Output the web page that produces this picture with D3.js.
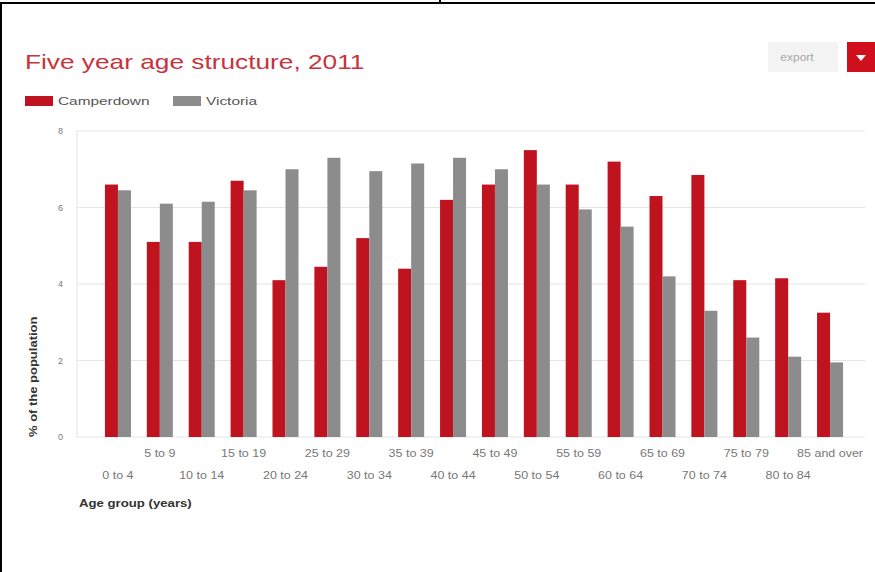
<!DOCTYPE html>
<html><head><meta charset="utf-8">
<script src="https://cdn.jsdelivr.net/npm/d3@7"></script>
<style>
body{margin:0;background:#fff;}
svg{display:block;font-family:"Liberation Sans",Arial,sans-serif;}
</style>
</head><body>
<svg id="chart" width="875" height="572"></svg>
<script>
const categories = ["0 to 4","5 to 9","10 to 14","15 to 19","20 to 24","25 to 29","30 to 34","35 to 39","40 to 44","45 to 49","50 to 54","55 to 59","60 to 64","65 to 69","70 to 74","75 to 79","80 to 84","85 and over"];
const seriesNames = ["Camperdown","Victoria"];
const camperdown = [6.6,5.1,5.1,6.7,4.1,4.45,5.2,4.4,6.2,6.6,7.5,6.6,7.2,6.3,6.85,4.1,4.15,3.25];
const victoria = [6.45,6.1,6.15,6.45,7.0,7.3,6.95,7.15,7.3,7.0,6.6,5.95,5.5,4.2,3.3,2.6,2.1,1.95];
const yTicks = [0,2,4,6,8];
const title = "Five year age structure, 2011";
const xTitle = "Age group (years)";
const yTitle = "% of the population";

const colors = {Camperdown:"#bf1420", Victoria:"#8c8c8c"};
const svg = d3.select("#chart");

// frame borders
svg.append("rect").attr("x",0).attr("y",2).attr("width",875).attr("height",2).attr("fill","#000");
svg.append("rect").attr("x",0).attr("y",2).attr("width",2).attr("height",570).attr("fill","#000");
svg.append("rect").attr("x",439).attr("y",0).attr("width",2).attr("height",3).attr("fill","#000");

// title
svg.append("g").attr("transform","translate(25,69) scale(1.25,1)")
  .append("text").text(title).attr("font-size",21).attr("fill","#c8333d");

// export button
svg.append("rect").attr("x",768).attr("y",42).attr("width",70).attr("height",30).attr("fill","#f3f3f3");
svg.append("g").attr("transform","translate(797,61) scale(1.2,1)")
  .append("text").text("export").attr("font-size",10).attr("fill","#aaa").attr("text-anchor","middle");
svg.append("rect").attr("x",847).attr("y",42).attr("width",28).attr("height",30).attr("fill","#d0101c");
svg.append("path").attr("d","M856,55 L866,55 L861,61 Z").attr("fill","#fff");

// legend
const legX = [25,173];
seriesNames.forEach((s,i)=>{
  svg.append("rect").attr("x",legX[i]).attr("y",96).attr("width",28).attr("height",10).attr("fill",colors[s]);
  svg.append("g").attr("transform",`translate(${legX[i]+33},105) scale(1.4,1)`)
    .append("text").text(s).attr("font-size",11).attr("fill","#555");
});

// scales
const x0 = d3.scaleBand().domain(categories).range([97,851]).paddingInner(0).paddingOuter(0);
const x1 = d3.scaleBand().domain(seriesNames).range([0,x0.bandwidth()]).paddingInner(0).paddingOuter(0.61);
const y = d3.scaleLinear().domain([0,8]).range([437,131]);

// gridlines
svg.append("g").selectAll("line").data(yTicks).join("line")
  .attr("x1",77).attr("x2",865).attr("y1",d=>y(d)).attr("y2",d=>y(d))
  .attr("stroke","#e4e4e4").attr("stroke-width",1);
svg.append("line").attr("x1",77).attr("x2",77).attr("y1",y(8)).attr("y2",y(0)).attr("stroke","#e4e4e4");

// y axis labels
const yAxis = d3.axisLeft(y).tickValues(yTicks).tickSize(0).tickPadding(0).tickFormat(d3.format("d"));
const yg = svg.append("g").attr("transform","translate(63,0)").call(yAxis);
yg.select(".domain").remove();
yg.selectAll("text").attr("font-size",9).attr("fill","#777").attr("font-family","Liberation Sans, Arial, sans-serif");

// bars
const data = categories.map((c,i)=>({cat:c, vals:[{s:"Camperdown",v:camperdown[i]},{s:"Victoria",v:victoria[i]}]}));
const groups = svg.append("g").selectAll("g").data(data).join("g")
  .attr("transform",d=>`translate(${x0(d.cat)},0)`);
groups.selectAll("rect").data(d=>d.vals).join("rect")
  .attr("x",d=>x1(d.s)).attr("width",x1.bandwidth())
  .attr("y",d=>y(d.v)).attr("height",d=>y(0)-y(d.v))
  .attr("fill",d=>colors[d.s]);

// x axis labels (staggered)
const xAxis = d3.axisBottom(x0).tickSize(0).tickPadding(0);
const xg = svg.append("g").attr("transform","translate(0,437)").call(xAxis);
xg.select(".domain").remove();
xg.selectAll(".tick text")
  .attr("font-size",10).attr("fill","#777").attr("font-family","Liberation Sans, Arial, sans-serif")
  .attr("dy",null)
  .attr("y",(d,i)=> i%2===0 ? 42 : 20)
  .attr("transform","scale(1.25,1)");

// axis titles
svg.append("g").attr("transform","translate(79,507) scale(1.2,1)")
  .append("text").text(xTitle).attr("font-size",11).attr("font-weight","bold").attr("fill","#333");
svg.append("g").attr("transform","translate(37,437) rotate(-90)")
  .append("text").text(yTitle).attr("font-size",13).attr("font-weight","bold").attr("fill","#333")
  .attr("text-anchor","start").attr("transform","scale(1,0.85)");
</script>
</body></html>
